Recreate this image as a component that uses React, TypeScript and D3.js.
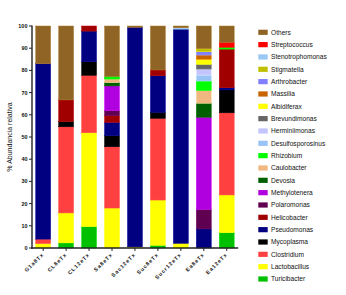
import React from "react";
import * as d3 from "d3";

const samples = ["G1a8Tx", "CL8eTx", "CL12eTx", "Sa8eTx", "Sac12eTx", "Suc8eTx", "Sucr12eTx", "Ea8eTx", "Ea12eTx"];

// stacking order bottom -> top
const taxa = [
  "Turicibacter", "Lactobacillus", "Clostridium", "Mycoplasma", "Pseudomonas", "Helicobacter",
  "Polaromonas", "Methylotenera", "Devosia", "Caulobacter", "Rhizobium", "Desulfosporosinus",
  "Herminiimonas", "Brevundimonas", "Albidiferax", "Massilia", "Arthrobacter", "Stigmatella",
  "Stenotrophomonas", "Streptococcus", "Others",
];

const colors: Record<string, string> = {
  Others: "#8f6424",
  Streptococcus: "#ff0000",
  Stenotrophomonas: "#99c8f5",
  Stigmatella: "#c0c000",
  Arthrobacter: "#8080ff",
  Massilia: "#c86400",
  Albidiferax: "#ffff00",
  Brevundimonas: "#666666",
  Herminiimonas: "#c4c4ff",
  Desulfosporosinus: "#99c2f5",
  Rhizobium: "#00ff00",
  Caulobacter: "#f0b880",
  Devosia: "#006000",
  Methylotenera: "#b000e0",
  Polaromonas: "#600050",
  Helicobacter: "#a00000",
  Pseudomonas: "#000080",
  Mycoplasma: "#000000",
  Clostridium: "#ff4040",
  Lactobacillus: "#ffff00",
  Turicibacter: "#00c000",
};

const Turicibacter = [0, 2.3, 9.6, 0, 0, 1.2, 0, 0, 6.9];
const Lactobacillus = [2, 13.5, 42.3, 18, 0.5, 20.4, 2.1, 0, 17];
const Clostridium = [2, 38.8, 25.9, 27.6, 0, 36.8, 0, 0, 37];
const Mycoplasma = [0, 2.3, 6.1, 5, 0, 2.7, 0, 0, 10.3];
const Pseudomonas = [79, 0, 13.8, 6, 98.9, 16.5, 96.5, 8.6, 1];
const Helicobacter = [0, 9.8, 2.3, 3, 0, 2.6, 0, 0, 17.4];
const Polaromonas = [0, 0, 0, 2.3, 0, 0, 0, 8.8, 0];
const Methylotenera = [0, 0, 0, 11.1, 0, 0, 0, 41.5, 0];
const Devosia = [0, 0, 0, 1.5, 0, 0, 0, 6.3, 0];
const Caulobacter = [0, 0, 0, 1.6, 0, 0, 0, 5.7, 0];
const Rhizobium = [0, 0, 0, 1.1, 0, 0, 0, 4.3, 0.8];
const Desulfosporosinus = [0, 0, 0, 0, 0, 0, 0, 2.7, 0];
const Herminiimonas = [0, 0, 0, 0, 0, 0, 0, 2.7, 0];
const Brevundimonas = [0, 0, 0, 0, 0, 0, 0, 2.1, 0];
const Albidiferax = [0, 0, 0, 0, 0, 0, 0, 2.3, 0];
const Massilia = [0, 0, 0, 0, 0, 0, 0, 1.9, 0];
const Arthrobacter = [0, 0, 0, 0, 0, 0, 0, 1.5, 0];
const Stigmatella = [0, 0, 0, 0, 0, 0, 0, 1.4, 0];
const Stenotrophomonas = [0, 0, 0, 0, 0, 0, 0.6, 0, 0];
const Streptococcus = [0, 0, 0, 0, 0, 0, 0, 0, 2.2];
const Others = [17, 33.3, 0, 22.8, 0.6, 19.8, 0.8, 10.2, 7.4];

const series: Record<string, number[]> = {
  Turicibacter, Lactobacillus, Clostridium, Mycoplasma, Pseudomonas, Helicobacter, Polaromonas,
  Methylotenera, Devosia, Caulobacter, Rhizobium, Desulfosporosinus, Herminiimonas, Brevundimonas,
  Albidiferax, Massilia, Arthrobacter, Stigmatella, Stenotrophomonas, Streptococcus, Others,
};

const yTicks = [0, 10, 20, 30, 40, 50, 60, 70, 80, 90, 100];
const legendOrder = [...taxa].reverse();

export default function App() {
  const W = 346, H = 295;
  const x = d3.scaleBand<string>().domain(samples).range([31.7, 238.2]).paddingInner(0.35).paddingOuter(0.175);
  const y = d3.scaleLinear().domain([0, 100]).range([248, 26]);

  const rows = samples.map((s, i) => {
    const r: any = { sample: s };
    taxa.forEach((t) => (r[t] = series[t][i]));
    return r;
  });
  const stacked = d3.stack<any>().keys(taxa)(rows);

  const font = "Arial, 'Liberation Sans', sans-serif";
  const legY = d3.scaleLinear().domain([0, legendOrder.length - 1]).range([32.3, 279]);

  return (
    <svg width={W} height={H} style={{ position: "absolute", left: 0, top: 0, background: "#fff" }}>
      {stacked.map((layer) => (
        <g key={layer.key}>
          {layer.map((d, i) => {
            const h = y(d[0]) - y(d[1]);
            if (h <= 0) return null;
            const c = colors[layer.key];
            return (
              <rect
                key={i}
                x={x(samples[i])}
                y={y(d[1])}
                width={x.bandwidth()}
                height={h}
                fill={c}
                stroke={d3.color(c)!.brighter(0.5).formatHex()}
                strokeWidth={0.5}
              />
            );
          })}
        </g>
      ))}
      {/* Y axis */}
      <line x1={32} x2={32} y1={25.5} y2={248.7} stroke="#222" strokeWidth={1.4} />
      {yTicks.map((t) => (
        <g key={t}>
          <line x1={29} x2={32} y1={y(t)} y2={y(t)} stroke="#222" strokeWidth={1} />
          <text x={27.5} y={y(t) + 1.9} fontSize={5.5} fontWeight="bold" textAnchor="end" fontFamily={font} fill="#111">
            {t}
          </text>
        </g>
      ))}
      {/* X axis */}
      <line x1={31.3} x2={238.2} y1={248} y2={248} stroke="#222" strokeWidth={1.4} />
      {samples.map((s) => {
        const cx = x(s)! + x.bandwidth() / 2;
        return (
          <g key={s}>
            <line x1={cx} x2={cx} y1={248} y2={251} stroke="#222" strokeWidth={1} />
            <text
              transform={`translate(${cx + 1},${255}) rotate(-45)`}
              fontSize={5.3}
              fontWeight="bold"
              letterSpacing={0.9}
              textAnchor="end"
              fontFamily={font}
              fill="#111"
            >
              {s}
            </text>
          </g>
        );
      })}
      <text
        transform={`translate(12,137) rotate(-90)`}
        fontSize={7}
        textAnchor="middle"
        fontFamily={font}
        fill="#111"
      >
        % Abundancia relativa
      </text>
      {/* Legend */}
      {legendOrder.map((t, i) => (
        <g key={t}>
          <rect x={258.3} y={legY(i) - 2.6} width={9.4} height={5.2} fill={colors[t]} />
          <text x={271} y={legY(i) + 2.3} fontSize={6.6} fontFamily={font} fill="#111">
            {t}
          </text>
        </g>
      ))}
    </svg>
  );
}
